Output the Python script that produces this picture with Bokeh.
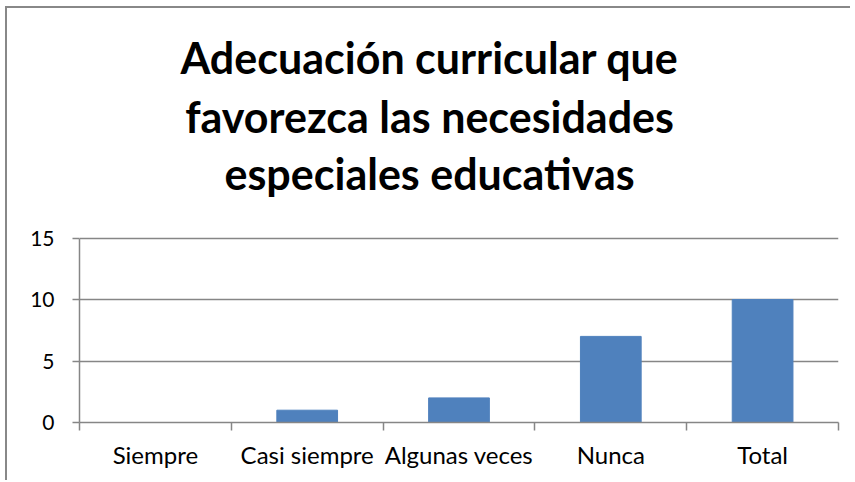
from bokeh.plotting import figure
from bokeh.models import FixedTicker, Label, Range1d
from bokeh.embed import file_html
from bokeh.resources import INLINE

categories = ["Siempre", "Casi siempre", "Algunas veces", "Nunca", "Total"]
values = [0, 1, 2, 7, 10]
y_ticks = [0, 5, 10, 15]
title_lines = ["Adecuación curricular que", "favorezca las necesidades", "especiales educativas"]

xs = [i + 0.5 for i in range(len(categories))]

# the frame reaches the top of the chart; the value axis is bounded to 0-15
p = figure(width=845, height=474, output_backend="svg", toolbar_location=None,
           x_range=Range1d(0, len(categories)), y_range=Range1d(0, 33.66),
           min_border_left=72, min_border_right=14, min_border_bottom=60, min_border_top=0)

p.vbar(x=xs, top=values, width=0.4, color="#4F81BD")

# chart title: three centred lines
title_x = 2.306
title_y = [29.67, 24.88, 20.24]
for line, ty in zip(title_lines, title_y):
    p.add_layout(Label(x=title_x, y=ty, text=line, text_align="center",
                       text_baseline="alphabetic", text_font="Lato",
                       text_font_size="43px", text_font_style="bold",
                       text_color="#000000"))

p.outline_line_color = None
p.background_fill_color = "white"
p.border_fill_color = "white"

grey = "#868686"
p.xgrid.grid_line_color = None
p.ygrid.grid_line_color = grey
p.ygrid.grid_line_width = 1.5
p.ygrid.ticker = FixedTicker(ticks=y_ticks)

p.yaxis.ticker = FixedTicker(ticks=y_ticks)
p.yaxis.bounds = (min(y_ticks), max(y_ticks))
p.yaxis.axis_line_color = grey
p.yaxis.axis_line_width = 1.5
p.yaxis.major_tick_line_color = grey
p.yaxis.major_tick_line_width = 1.5
p.yaxis.major_tick_out = 7
p.yaxis.major_tick_in = 0
p.yaxis.minor_tick_line_color = None
p.yaxis.major_label_standoff = 18
p.yaxis.major_label_text_font = "Lato"
p.yaxis.major_label_text_font_size = "21px"
p.yaxis.major_label_text_color = "#000000"

p.xaxis.ticker = FixedTicker(ticks=xs, minor_ticks=list(range(len(categories) + 1)))
p.xaxis.major_label_overrides = {x: c for x, c in zip(xs, categories)}
p.xaxis.axis_line_color = grey
p.xaxis.axis_line_width = 1.5
p.xaxis.major_tick_line_color = None
p.xaxis.minor_tick_line_color = grey
p.xaxis.minor_tick_line_width = 1.5
p.xaxis.minor_tick_out = 8
p.xaxis.minor_tick_in = 0
p.xaxis.major_tick_out = 8
p.xaxis.major_label_standoff = 9
p.xaxis.major_label_text_font = "Lato"
p.xaxis.major_label_text_font_size = "24px"
p.xaxis.major_label_text_color = "#000000"

p.styles = {"border-left": "2px solid #888888", "border-top": "2px solid #888888",
            "margin-left": "5px", "margin-top": "6px"}

open("out.html", "w").write(file_html(p, INLINE))
